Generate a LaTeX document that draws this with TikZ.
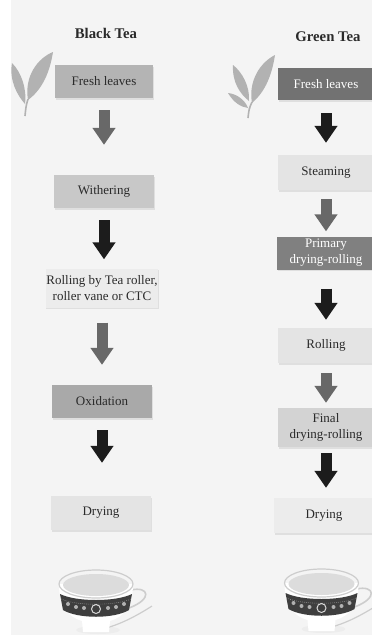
\documentclass[tikz,border=0pt]{standalone}
\usepackage{fontspec}
\setmainfont{Liberation Serif}
\usetikzlibrary{arrows.meta,shadows}

\definecolor{paper}{HTML}{F4F4F4}
\definecolor{ink}{HTML}{2A2A2A}
\definecolor{boxpale}{HTML}{E4E4E4}
\definecolor{boxpalest}{HTML}{ECECEC}
\definecolor{boxsoft}{HTML}{C8C8C8}
\definecolor{boxmid}{HTML}{B4B4B4}
\definecolor{boxdeep}{HTML}{A9A9A9}
\definecolor{boxdark}{HTML}{727272}
\definecolor{arrowgrey}{HTML}{686868}
\definecolor{arrowblack}{HTML}{1C1C1C}
\definecolor{leafgrey}{HTML}{B2B2B2}
\definecolor{cupline}{HTML}{CDCDCD}
\definecolor{cupband}{HTML}{3E3E3E}
\definecolor{liquid}{HTML}{DCDCDC}

\begin{document}
\begin{tikzpicture}[x=0.05cm,y=-0.05cm,
  stage/.style={minimum width=5cm,minimum height=1.65cm,align=center,inner sep=1pt,
    text=ink,font=\fontsize{18.5}{23}\selectfont,
    drop shadow={opacity=0.18,shadow xshift=0.03cm,shadow yshift=-0.08cm}},
  heading/.style={text=ink,font=\fontsize{21}{24}\selectfont\bfseries},
  down/.style 2 args={line width=0.55cm,-{Triangle[width=1.1cm,length=0.85cm]},
    shorten <=#1,shorten >=#2},
  teacup/.pic={
    % spoon, foot shadow and handle
    \fill[cupline!35] (2,46) ellipse (22 and 4);
    \draw[cupline,line width=0.06cm] (6,45) .. controls (24,41) and (42,31) .. (56,22);
    \draw[cupline,line width=0.08cm] (35,6) .. controls (53,2) and (57,15) .. (33,24);
    % body
    \fill[white] (-37,0) .. controls (-37,22) and (-28,33) .. (-14,37) -- (-13,48)
      -- (13,48) -- (14,37) .. controls (28,33) and (37,22) .. (37,0) -- cycle;
    \fill[cupband] (-36,10) .. controls (-20,18) and (20,18) .. (36,10) -- (33,26)
      .. controls (18,35) and (-18,35) .. (-33,26) -- cycle;
    \foreach \x/\y in {-28/20,-20/23,-12/24,12/24,20/23,28/20}
      \fill[white,opacity=0.6] (\x,\y) circle (2);
    \draw[white,opacity=0.8,line width=0.05cm] (0,25) circle (4.5);
    \draw[white,opacity=0.5,line width=0.03cm,dotted] (-35,15) .. controls (-20,22) and (20,22) .. (35,15);
    % rim and tea
    \fill[liquid] (0,1) ellipse (33 and 11);
    \draw[cupline,line width=0.06cm] (0,0) ellipse (37 and 14);
  }]
\useasboundingbox (0,0) rectangle (372,635);
\fill[white] (0,0) rectangle (372,635);
\fill[paper] (11,0) rectangle (372,635);

% leaves
\fill[leafgrey] (28,100) .. controls (24,76) and (38,58) .. (53,52) .. controls (50,71) and (43,89) .. (28,100);
\fill[leafgrey] (12,63) .. controls (9,80) and (17,95) .. (25,104) .. controls (27,88) and (21,72) .. (12,63);
\draw[leafgrey,line width=0.08cm] (28,99) .. controls (26,106) .. (25,116);
\fill[leafgrey] (252,103) .. controls (248,80) and (261,62) .. (275,55) .. controls (272,74) and (266,91) .. (252,103);
\fill[leafgrey] (233,65) .. controls (232,82) and (240,94) .. (249,101) .. controls (250,86) and (242,72) .. (233,65);
\fill[leafgrey] (228,93) .. controls (234,103) and (241,107) .. (248,108) .. controls (245,100) and (237,94) .. (228,93);
\draw[leafgrey,line width=0.08cm] (252,102) .. controls (249,109) .. (248,118);

% black tea
\node[heading] (bt) at (106,33) {Black Tea};
\node[stage,fill=boxmid,minimum width=4.9cm] (fresh1) at (104,81.5) {Fresh leaves};
\node[stage,fill=boxsoft] (wither1) at (104,191.5) {Withering};
\node[stage,fill=boxpalest,minimum width=5.3cm,minimum height=1.95cm] (roll1) at (102,288) {Rolling by Tea roller,\\roller vane or CTC};
\node[stage,fill=boxdeep] (oxid1) at (102,401.5) {Oxidation};
\node[stage,fill=boxpale,minimum height=1.7cm] (dry1) at (101,513) {Drying};

\draw[down={0.6cm}{1.5cm},arrowgrey] (fresh1.south) -- (fresh1.south |- wither1.north);
\draw[down={0.6cm}{0.45cm},arrowblack] (wither1.south) -- (wither1.south |- roll1.north);
\draw[down={0.75cm}{1cm},arrowgrey] (roll1.south) -- (roll1.south |- oxid1.north);
\draw[down={0.6cm}{1.65cm},arrowblack] (oxid1.south) -- (oxid1.south |- dry1.north);

% green tea
\node[heading] (gt) at (328,37) {Green Tea};
\node[stage,fill=boxdark,text=white,minimum width=4.8cm,minimum height=1.6cm] (fresh2) at (326,84) {Fresh leaves};
\node[stage,fill=boxpale,minimum width=4.8cm,minimum height=1.75cm] (steam2) at (326,172.5) {Steaming};
\node[stage,fill=boxdark!90!white,text=white,minimum width=4.9cm,minimum height=1.65cm] (prim2) at (326,253) {Primary\\drying-rolling};
\node[stage,fill=boxpale,minimum width=4.8cm,minimum height=1.75cm] (roll2) at (326,345.5) {Rolling};
\node[stage,fill=boxsoft!80!white,minimum width=4.8cm,minimum height=1.95cm] (final2) at (326,427.5) {Final\\drying-rolling};
\node[stage,fill=boxpale!70!white,minimum width=5cm,minimum height=1.75cm] (dry2) at (324,515.5) {Drying};

\draw[down={0.65cm}{0.6cm},arrowblack] (fresh2.south) -- (fresh2.south |- steam2.north);
\draw[down={0.45cm}{0.25cm},arrowgrey] (steam2.south) -- (steam2.south |- prim2.north);
\draw[down={0.95cm}{0.4cm},arrowblack] (prim2.south) -- (prim2.south |- roll2.north);
\draw[down={0.5cm}{0.25cm},arrowgrey] (roll2.south) -- (roll2.south |- final2.north);
\draw[down={0.3cm}{0.5cm},arrowblack] (final2.south) -- (final2.south |- dry2.north);

% cups
\pic at (96,584) {teacup};
\pic at (321.5,583) {teacup};
\end{tikzpicture}
\end{document}
